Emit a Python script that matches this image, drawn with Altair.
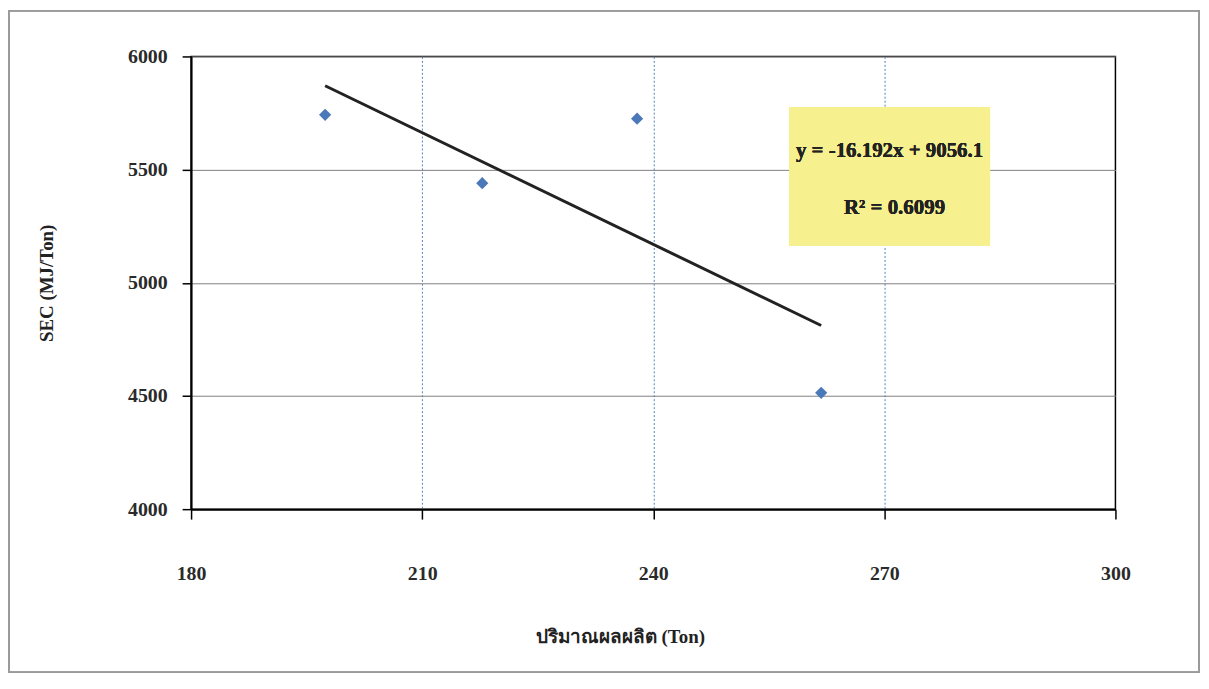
import altair as alt
import pandas as pd

# Data
production = [197.4, 217.8, 237.9, 261.8]          # ปริมาณผลผลิต (Ton)
sec_values = [5742, 5440, 5725, 4514]              # SEC (MJ/Ton)
x_ticks = [180, 210, 240, 270, 300]
y_ticks = [4000, 4500, 5000, 5500, 6000]
equation_text = "y = -16.192x + 9056.1"
r2_text = "R² = 0.6099"
x_title = "ปริมาณผลผลิต (Ton)"
y_title = "SEC (MJ/Ton)"

df = pd.DataFrame({"x": production, "y": sec_values})

W, H = 929, 455
PAD_L, PAD_T, PAD_R, PAD_B = 184, 47, 86, 166
FONT = "Liberation Serif"

x_enc = alt.X(
    "x:Q",
    scale=alt.Scale(domain=[180, 300], nice=False, zero=False),
    axis=alt.Axis(
        values=x_ticks, title=x_title, grid=True, format="d", labelFlush=False,
        gridColor="#4f81bd", gridDash=[2, 2], gridWidth=1,
        gridOpacity={"condition": {"test": "datum.value === 180 || datum.value === 300", "value": 0}, "value": 1},
        tickSize=10, tickColor="black", tickWidth=1.5,
        domainColor="black", domainWidth=2,
        labelPadding=45, labelFontSize=20, labelFont=FONT, labelFontWeight="bold", labelColor="#2a2a2a",
        titleFont=FONT, titleFontSize=19, titleFontWeight="bold", titleColor="#222222",
        titleX=431, titleY=128, titleBaseline="middle", titleAlign="center",
    ),
)
y_enc = alt.Y(
    "y:Q",
    scale=alt.Scale(domain=[4000, 6000], nice=False, zero=False),
    axis=alt.Axis(
        values=y_ticks, title=y_title, grid=True, format="d", labelFlush=False,
        gridColor="#808080", gridWidth=1,
        tickSize=9, tickColor="black", tickWidth=1.5,
        domainColor="black", domainWidth=2,
        labelPadding=15, labelFontSize=20, labelFont=FONT, labelFontWeight="bold", labelColor="#2a2a2a",
        titleFont=FONT, titleFontSize=19, titleFontWeight="bold", titleColor="#222222",
        titleX=-145, titleY=227.5, titleAngle=-90, titleBaseline="middle", titleAlign="center",
    ),
)

base = alt.Chart(df)

frame = base.mark_rect(fill=None, stroke="#9a9a9a", strokeWidth=1.5).encode(
    x=alt.value(-183), x2=alt.value(W + PAD_R - 2),
    y=alt.value(-46), y2=alt.value(H + PAD_B - 2),
)

points = base.mark_point(shape="diamond", filled=True, size=150, color="#4a78b8", opacity=1).encode(
    x=x_enc, y=y_enc
)

trend = base.transform_regression("x", "y", method="linear").mark_line(
    color="#222222", strokeWidth=3
).encode(x="x:Q", y="y:Q")

box = base.mark_rect(fill="#f6f08e", stroke=None).encode(
    x=alt.value(601), x2=alt.value(803), y=alt.value(51), y2=alt.value(190)
)
eq = base.mark_text(font=FONT, fontSize=21, fontWeight="bold", color="#222222", align="center", baseline="middle").encode(
    x=alt.value(702), y=alt.value(95), text=alt.value(equation_text)
)
r2 = base.mark_text(font=FONT, fontSize=21, fontWeight="bold", color="#222222", align="center", baseline="middle").encode(
    x=alt.value(707), y=alt.value(152), text=alt.value(r2_text)
)

chart = alt.layer(frame, trend, points, box, eq, r2).properties(
    width=W, height=H,
    autosize=alt.AutoSizeParams(type="none"),
    padding={"left": PAD_L, "top": PAD_T, "right": PAD_R, "bottom": PAD_B},
    background="white",
).configure_view(stroke="black", strokeWidth=1.5)

chart.save("out.html", embed_options={"renderer": "svg", "actions": False})
